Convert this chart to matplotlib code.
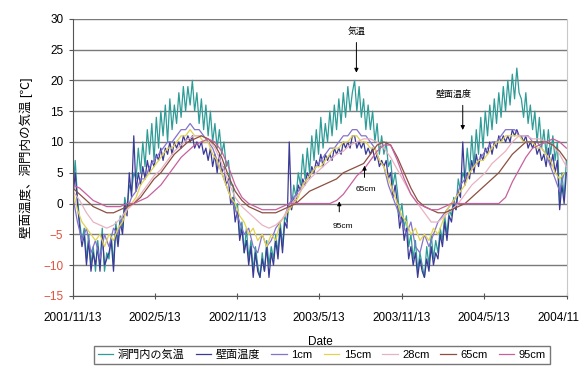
import matplotlib
matplotlib.use('Agg')
import matplotlib.pyplot as plt
import pandas as pd

plt.rcParams['font.family'] = ['Liberation Sans', 'Noto Sans CJK JP']

# 5-day readings: air temperature in the tunnel and wall surface temperature
air_temp = [
    2, 7, 1, -3,
    -6, -4, -9, -5, -10, -7,
    -11, -6, -10, -4, -11, -8,
    -9, -5, -10, -3, -6, -2,
    -4, 1, -1, 3, 2, 5,
    4, 9, 5, 10, 6, 12,
    8, 13, 7, 14, 9, 15,
    11, 16, 10, 17, 12, 16,
    13, 18, 14, 19, 15, 19, 16,
    20, 15, 18, 13, 17, 12,
    16, 11, 15, 10, 13, 9,
    12, 8, 10, 6, 7, 3,
    3, -1, 0, -5, -3, -8,
    -4, -9, -6, -11, -7, -10,
    -12, -8, -11, -6, -10, -7,
    -9, -5, -8, -3, -7, -2,
    -3, 0, -1, 3, 1, 5,
    3, 8, 4, 9, 5, 11,
    7, 12, 8, 14, 9, 13,
    10, 15, 11, 16, 12, 17,
    13, 18, 14, 19, 15, 18,
    20, 15, 19, 14, 17, 12, 16,
    12, 15, 10, 13, 8, 11,
    8, 10, 6, 7, 3, 5,
    2, -2, 0, -4, -2, -7,
    -5, -9, -6, -11, -8, -10,
    -12, -7, -10, -5, -9, -6,
    -8, -4, -6, -2, -5, -1,
    -2, 1, -1, 4, 2, 5,
    4, 9, 5, 11, 6, 12,
    8, 14, 9, 15, 11, 16,
    12, 17, 13, 18, 14, 19,
    15, 20, 16, 21, 17, 22, 18,
    17, 14, 18, 13, 16, 12,
    15, 10, 14, 9, 12, 8,
    12, 8, 11, 7, 10, 0,
    5, 1, 7,
]

wall_temp = [
    1, 5, 0, -4,
    -7, -5, -10, -6, -11, -8,
    -10, -7, -11, -5, -10, -9,
    -8, -6, -11, -4, -7, -3,
    -5, 0, -2, 5, 1, 11,
    2, 5, 3, 6, 4, 7,
    5, 7, 6, 8, 7, 9,
    7, 9, 8, 10, 8, 10,
    9, 10, 9, 11, 10, 11, 10,
    11, 9, 10, 9, 10, 8,
    9, 7, 9, 6, 8, 5,
    8, 5, 6, 3, 4, 0,
    1, -3, -1, -6, -4, -8,
    -6, -10, -7, -12, -8, -11,
    -12, -9, -11, -7, -12, -8,
    -10, -6, -9, -4, -8, -3,
    -4, 10, -1, 1, 0, 3,
    2, 4, 3, 5, 4, 6,
    5, 7, 6, 8, 6, 8,
    7, 8, 7, 9, 8, 9,
    8, 10, 9, 10, 9, 11,
    11, 9, 10, 9, 10, 8, 9,
    8, 9, 7, 8, 6, 7,
    6, 7, 4, 5, 1, 3,
    0, -4, -2, -6, -4, -9,
    -7, -10, -8, -12, -9, -11,
    -12, -9, -11, -7, -10, -8,
    -9, -5, -7, -3, -6, -2,
    -3, 0, -1, 2, 1, 10,
    3, 5, 4, 7, 5, 8,
    6, 8, 7, 9, 8, 10,
    8, 10, 9, 11, 10, 11,
    10, 11, 10, 12, 11, 12, 11,
    11, 10, 11, 9, 10, 9,
    10, 8, 9, 7, 8, 6,
    9, 6, 8, 5, 7, -1,
    3, 0, 5,
]

# 10-day readings at 1cm and 15cm depth
depth_1cm = [
    1, -3,
    -6, -4, -8, -6, -9, -5, -7, -4, -5, -2, -1, 1,
    2, 4, 4, 6, 7, 8, 9, 10, 10, 11, 12, 12,
    13, 12, 12, 11, 10, 9, 7, 5, 3, 1, -1, -3,
    -5, -4, -7, -8, -5, -7, -6, -4, -3, -2, 0, 1,
    2, 3, 4, 5, 6, 7, 8, 9, 9, 10, 11, 11,
    12, 12, 11, 11, 10, 9, 7, 6, 3, 1, -1, -3,
    -5, -3, -7, -8, -5, -7, -5, -3, -2, -1, 0, 1,
    3, 4, 5, 6, 7, 8, 9, 10, 10, 11, 12, 12,
    12, 11, 11, 11, 10, 10, 9, 8, 6, 4, 2, 5,
]

depth_15cm = [
    2, -1,
    -3, -4, -5, -6, -5, -7, -5, -6, -4, -3, -1, 0,
    1, 3, 4, 5, 6, 7, 8, 9, 9, 10, 11, 11,
    12, 11, 11, 10, 10, 8, 7, 5, 3, 1, 0, -2,
    -3, -5, -4, -6, -5, -7, -5, -6, -3, -2, -1, 0,
    1, 3, 4, 5, 6, 6, 7, 8, 9, 9, 10, 10,
    11, 11, 10, 10, 9, 9, 7, 6, 4, 2, 0, -2,
    -3, -5, -4, -6, -5, -6, -4, -5, -3, -1, 0, 1,
    2, 3, 5, 6, 7, 7, 8, 9, 10, 10, 11, 11,
    11, 11, 10, 10, 10, 9, 9, 8, 7, 5, 4, 5,
]

# 15-day readings at 28cm, 65cm and 95cm depth
depth_28cm = [
    2, 0.5, -1.5, -3, -3.5, -4, -3.5, -2.5, -1, 0,
    1.5, 3, 4.5, 5.5, 7, 8.5, 9.5, 10.5, 11, 11,
    10.5, 9, 6.5, 3.5, 1, -0.5, -1.5, -2.5, -3.5, -4,
    -3.5, -2.5, -0.5, 1, 2.5, 4, 5, 6, 7, 8,
    8.5, 9.5, 10, 10.5, 10.5, 10, 9, 7.5, 5.5, 3.5,
    1.5, 0, -1.5, -3, -3, -2, -1, 0, 1.5, 3,
    4, 5, 6.5, 7.5, 8.5, 10, 11, 11, 10.5, 10.5,
    10, 9.5, 8, 6,
]

depth_65cm = [
    2.5, 1.5, 0.5, -0.5, -1, -1.5, -1.5, -1, -0.5, 0,
    1, 2.5, 4, 5, 6.5, 8, 9, 10, 10.5, 11,
    10.5, 9.5, 7.5, 4.5, 2, 0.5, -0.5, -1, -1.5, -1.5,
    -1.5, -1, -0.5, 0, 1, 2, 2.5, 3, 3.5, 4,
    5, 5.5, 6, 6.5, 8, 9.5, 10, 9.5, 7.5, 5,
    2.5, 0.5, -0.5, -1, -1.5, -1.5, -1, -0.5, 0, 1,
    2, 3, 4, 5, 6.5, 8, 9, 10, 10, 10,
    10, 9.5, 8.5, 7,
]

depth_95cm = [
    3, 2.5, 1.5, 0.5, 0, -0.5, -0.5, -0.5, 0, 0,
    0.5, 1, 2, 3, 4.5, 6, 7.5, 8.5, 9.5, 10,
    10.5, 10, 8.5, 6, 3, 1, 0, -0.5, -1, -1,
    -1, -0.5, 0, 0, 0, 0, 0, 0, 0, 0.5,
    1.5, 3, 4.5, 5.5, 7, 8.5, 9.5, 9.5, 7, 4,
    1.5, 0, -0.5, -1, -1, -0.5, 0, 0, 0, 0,
    0, 0, 0, 0, 1, 3.5, 5.5, 7.5, 9, 9.5,
    10, 10.5, 10, 9,
]

start = '2001-11-13'
tick_dates = ['2001-11-13', '2002-05-13', '2002-11-13', '2003-05-13',
              '2003-11-13', '2004-05-13', '2004-11-13']
tick_labels = ['2001/11/13', '2002/5/13', '2002/11/13', '2003/5/13',
               '2003/11/13', '2004/5/13', '2004/11/13']
y_ticks = list(range(-15, 31, 5))

d5 = pd.date_range(start, periods=len(air_temp), freq='5D')
d10 = pd.date_range(start, periods=len(depth_1cm), freq='10D')
d15 = pd.date_range(start, periods=len(depth_28cm), freq='15D')

fig = plt.figure(figsize=(5.79, 3.76), dpi=100)
ax = fig.add_axes([0.126, 0.213, 0.853, 0.737])

lw = 0.9
ax.plot(d5, air_temp, color='#2e9c97', lw=lw, label='洞門内の気温')
ax.plot(d5, wall_temp, color='#3b3a96', lw=lw, label='壁面温度')
ax.plot(d10, depth_1cm, color='#8374cc', lw=lw, label='1cm')
ax.plot(d10, depth_15cm, color='#e4d24e', lw=lw, label='15cm')
ax.plot(d15, depth_28cm, color='#e8b2c2', lw=lw, label='28cm')
ax.plot(d15, depth_65cm, color='#8c4f40', lw=lw, label='65cm')
ax.plot(d15, depth_95cm, color='#c8609e', lw=lw, label='95cm')

ax.set_xlim(pd.Timestamp(tick_dates[0]), pd.Timestamp(tick_dates[-1]))
ax.set_ylim(-15, 30)
ax.set_xticks(pd.to_datetime(tick_dates))
ax.set_xticklabels(tick_labels)
ax.set_yticks(y_ticks)
for t, v in zip(ax.get_yticklabels(), y_ticks):
    if v < 0:
        t.set_color('#e0503c')

ax.yaxis.grid(True, color='#7a7a7a', lw=1.0)
ax.set_axisbelow(True)
ax.spines['top'].set_visible(False)
ax.spines['right'].set_color('#c8c8c8')
ax.spines['left'].set_color('#555555')
ax.spines['bottom'].set_color('#555555')
ax.tick_params(axis='x', direction='inout', length=5, color='#555555',
               labelsize=8.5, pad=9)
ax.tick_params(axis='y', direction='out', length=3, color='#555555',
               labelsize=8.5, pad=4)

ax.set_xlabel('Date', fontsize=8.5)
ax.xaxis.set_label_coords(0.5, -0.145)
ax.set_ylabel('壁面温度、洞門内の気温 [℃]', fontsize=9)
ax.yaxis.set_label_coords(-0.08, 0.5)

# callouts
arrow = dict(arrowstyle='-|>', color='black', lw=0.7, mutation_scale=6)
ax.annotate('', xy=(pd.Timestamp('2003-08-04'), 20.8),
            xytext=(pd.Timestamp('2003-08-04'), 26.6), arrowprops=arrow)
ax.text(pd.Timestamp('2003-08-04'), 27.9, '気温', ha='center', va='center',
        fontsize=6.5)
ax.annotate('', xy=(pd.Timestamp('2004-03-27'), 11.5),
            xytext=(pd.Timestamp('2004-03-27'), 16.4), arrowprops=arrow)
ax.text(pd.Timestamp('2004-03-06'), 17.7, '壁面温度', ha='center', va='center',
        fontsize=6.5)
ax.annotate('', xy=(pd.Timestamp('2003-08-22'), 6.6),
            xytext=(pd.Timestamp('2003-08-22'), 3.8), arrowprops=arrow)
ax.text(pd.Timestamp('2003-08-26'), 2.2, '65cm', ha='center', va='center',
        fontsize=6)
ax.annotate('', xy=(pd.Timestamp('2003-06-27'), 0.8),
            xytext=(pd.Timestamp('2003-06-27'), -1.8), arrowprops=arrow)
ax.text(pd.Timestamp('2003-07-06'), -3.8, '95cm', ha='center', va='center',
        fontsize=6)

fig.legend(loc='center', bbox_to_anchor=(0.556, 0.056), ncol=7, fontsize=8,
           frameon=True, fancybox=False, edgecolor='#555555',
           handlelength=1.4, handletextpad=0.4, columnspacing=1.0,
           borderpad=0.35)

fig.savefig('out.png', dpi=100)
